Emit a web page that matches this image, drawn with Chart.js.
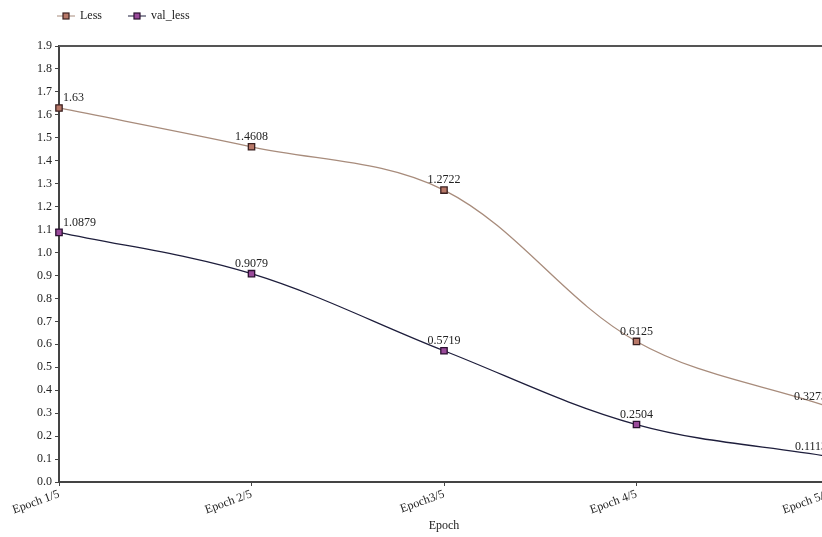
<!DOCTYPE html>
<html>
<head>
<meta charset="utf-8">
<script src="https://cdn.jsdelivr.net/npm/chart.js@4"></script>
<style>
  html, body { margin: 0; padding: 0; background: #fff; overflow: hidden; width: 822px; height: 537px; }
  #wrap { width: 840px; height: 537px; }
</style>
</head>
<body>
<div id="wrap"><canvas id="c" width="840" height="537"></canvas></div>
<script>
const categories = ["Epoch 1/5", "Epoch 2/5", "Epoch3/5", "Epoch 4/5", "Epoch 5/5"];
const lossValues = [1.63, 1.4608, 1.2722, 0.6125, 0.3273];
const valLossValues = [1.0879, 0.9079, 0.5719, 0.2504, 0.1113];
const seriesNames = ["Less", "val_less"];
const yTickMin = 0.0;
const yTickMax = 1.9;
const yTickStep = 0.1;

const SERIF = '"Liberation Serif", "DejaVu Serif", serif';

const legendPlugin = {
  id: 'customLegend',
  afterDraw(chart) {
    const ctx = chart.ctx;
    ctx.save();
    ctx.font = '12px ' + SERIF;
    ctx.textBaseline = 'middle';
    const y = 16;
    let x = 57;
    chart.data.datasets.forEach((ds, i) => {
      ctx.strokeStyle = ds.borderColor;
      ctx.lineWidth = 1;
      ctx.beginPath(); ctx.moveTo(x, y); ctx.lineTo(x + 18, y); ctx.stroke();
      ctx.fillStyle = ds.pointBackgroundColor;
      ctx.fillRect(x + 6, y - 3, 6, 6);
      ctx.strokeStyle = ds.pointBorderColor;
      ctx.lineWidth = 1.2;
      ctx.strokeRect(x + 6, y - 3, 6, 6);
      ctx.fillStyle = '#222';
      ctx.textAlign = 'left';
      ctx.fillText(ds.label, x + 23, y);
      x += 23 + ctx.measureText(ds.label).width + 26;
    });
    ctx.restore();
  }
};

const frameAndLabels = {
  id: 'frameAndLabels',
  beforeDatasetsDraw(chart) {
    const { ctx, chartArea } = chart;
    ctx.save();
    ctx.strokeStyle = '#555';
    ctx.lineWidth = 2;
    ctx.beginPath();
    ctx.moveTo(chartArea.left, chartArea.top);
    ctx.lineTo(chartArea.right + 20, chartArea.top);
    ctx.stroke();
    ctx.restore();
  },
  afterDatasetsDraw(chart) {
    const ctx = chart.ctx;
    ctx.save();
    ctx.font = '12px ' + SERIF;
    ctx.fillStyle = '#222';
    ctx.textBaseline = 'middle';
    chart.data.datasets.forEach((ds, di) => {
      const meta = chart.getDatasetMeta(di);
      const last = meta.data.length - 1;
      meta.data.forEach((pt, i) => {
        const txt = String(ds.data[i]);
        let x = pt.x;
        if (i === 0) { ctx.textAlign = 'left'; x = pt.x + 4; }
        else if (i === last) { ctx.textAlign = 'right'; x = pt.x - 2; }
        else { ctx.textAlign = 'center'; }
        ctx.fillText(txt, x, pt.y - 10);
      });
    });
    ctx.restore();
  }
};

new Chart(document.getElementById('c'), {
  type: 'line',
  data: {
    labels: categories,
    datasets: [
      {
        label: seriesNames[0],
        data: lossValues,
        borderColor: '#a88c7c',
        borderWidth: 1.3,
        tension: 0.35,
        pointStyle: 'rect',
        pointRadius: 4.5,
        pointBackgroundColor: '#b87868',
        pointBorderColor: '#3a2020',
        pointBorderWidth: 1.3,
        fill: false
      },
      {
        label: seriesNames[1],
        data: valLossValues,
        borderColor: '#1e1e3c',
        borderWidth: 1.3,
        tension: 0.35,
        pointStyle: 'rect',
        pointRadius: 4.5,
        pointBackgroundColor: '#9a4a9a',
        pointBorderColor: '#2a1030',
        pointBorderWidth: 1.3,
        fill: false
      }
    ]
  },
  options: {
    responsive: false,
    animation: false,
    layout: { padding: { top: 46, right: 11, left: 0, bottom: 0 } },
    plugins: { legend: { display: false }, tooltip: { enabled: false } },
    scales: {
      x: {
        type: 'category',
        offset: false,
        border: { display: true, color: '#444', width: 2 },
        grid: { display: true, drawOnChartArea: false, drawTicks: true, tickLength: 4, color: '#444' },
        ticks: { minRotation: 20, maxRotation: 20, color: '#222', font: { family: SERIF, size: 12 }, padding: 1 },
        title: { display: true, text: 'Epoch', color: '#222', font: { family: SERIF, size: 12 }, padding: { top: 0 } },
        afterFit(scale) { scale.height = 55; }
      },
      y: {
        min: yTickMin,
        max: yTickMax,
        border: { display: true, color: '#444', width: 2 },
        grid: { display: true, drawOnChartArea: false, drawTicks: true, tickLength: 4, color: '#444' },
        ticks: {
          stepSize: yTickStep,
          color: '#222',
          font: { family: SERIF, size: 12 },
          padding: 3,
          callback: v => Number(v).toFixed(1)
        },
        afterFit(scale) { scale.width = 59; }
      }
    }
  },
  plugins: [legendPlugin, frameAndLabels]
});
</script>
</body>
</html>
